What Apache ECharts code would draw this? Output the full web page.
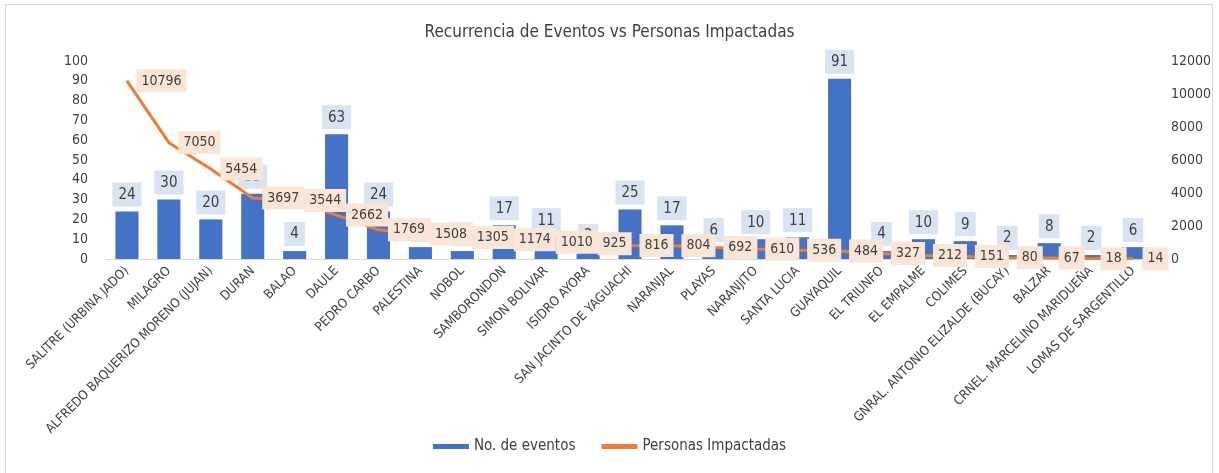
<!DOCTYPE html>
<html>
<head>
<meta charset="utf-8">
<script src="https://cdn.jsdelivr.net/npm/echarts@6/dist/echarts.min.js"></script>
<style>
html,body{margin:0;padding:0;background:#fff;}
#wrap{position:relative;width:1219px;height:473px;overflow:hidden;}
#frame{position:absolute;left:5px;top:4px;width:1208px;height:474px;border:1px solid #d9d9d9;box-sizing:border-box;}
#chart{position:absolute;left:0;top:0;width:1219px;height:473px;}
</style>
</head>
<body>
<div id="wrap"><div id="frame"></div><div id="chart"></div></div>
<script>
const categories = ["SALITRE (URBINA JADO)","MILAGRO","ALFREDO BAQUERIZO MORENO (JUJAN)","DURAN","BALAO","DAULE","PEDRO CARBO","PALESTINA","NOBOL","SAMBORONDON","SIMON BOLIVAR","ISIDRO AYORA","SAN JACINTO DE YAGUACHI","NARANJAL","PLAYAS","NARANJITO","SANTA LUCIA","GUAYAQUIL","EL TRIUNFO","EL EMPALME","COLIMES","GNRAL. ANTONIO ELIZALDE (BUCAY)","BALZAR","CRNEL. MARCELINO MARIDUEÑA","LOMAS DE SARGENTILLO"];
const eventos = [24,30,20,33,4,63,24,6,4,17,11,3,25,17,6,10,11,91,4,10,9,2,8,2,6];
const personas = [10796,7050,5454,3697,3544,2662,1769,1508,1305,1174,1010,925,816,804,692,610,536,484,327,212,151,80,67,18,14];
const leftTicks = {min:0,max:100,interval:10};
const rightTicks = {min:0,max:12000,interval:2000};

const FONT = "'Liberation Sans Narrow','DejaVu Sans Condensed','Roboto',sans-serif";
const chart = echarts.init(document.getElementById('chart'));
chart.setOption({
  animation:false,
  textStyle:{fontFamily:FONT},
  title:{text:'Recurrencia de Eventos vs Personas Impactadas',left:'center',top:19,
    textStyle:{fontFamily:FONT,fontSize:17,fontWeight:'normal',color:'#404040'}},
  legend:{bottom:14,left:'center',itemGap:26,itemWidth:36,itemHeight:5,
    textStyle:{fontFamily:FONT,fontSize:15,color:'#404040'},
    data:[{name:'No. de eventos',icon:'rect'},{name:'Personas Impactadas',icon:'roundRect'}]},
  grid:{left:106,right:65,top:61,height:198,containLabel:false},
  xAxis:{type:'category',data:categories,
    axisLine:{lineStyle:{color:'#d9d9d9',width:1}},axisTick:{show:false},
    axisLabel:{interval:0,rotate:45,fontFamily:FONT,fontSize:13,color:'#404040',margin:10}},
  yAxis:[
    {type:'value',min:leftTicks.min,max:leftTicks.max,interval:leftTicks.interval,
      splitLine:{show:false},axisLine:{show:false},axisTick:{show:false},
      axisLabel:{fontFamily:FONT,fontSize:14,color:'#404040',margin:18}},
    {type:'value',min:rightTicks.min,max:rightTicks.max,interval:rightTicks.interval,
      splitLine:{show:false},axisLine:{show:false},axisTick:{show:false},
      axisLabel:{fontFamily:FONT,fontSize:14,color:'#404040',margin:17,
        formatter:function(v){return String(v);}}}
  ],
  series:[
    {name:'No. de eventos',type:'bar',data:eventos,yAxisIndex:0,barWidth:'55%',
      itemStyle:{color:'#4472c4'},
      label:{show:true,position:'top',distance:5,fontFamily:FONT,fontSize:15,color:'#404040',
        backgroundColor:'#dae3f3',padding:[5,6,4,6]}},
    {name:'Personas Impactadas',type:'line',data:personas,yAxisIndex:1,
      symbol:'circle',symbolSize:1,showSymbol:true,
      itemStyle:{color:'#ed7d31'},lineStyle:{color:'#ed7d31',width:3},
      label:{show:true,position:'right',distance:9,fontFamily:FONT,fontSize:14,color:'#404040',
        backgroundColor:'#fbe5d6',padding:[5,5,4,5]}}
  ]
});
</script>
</body>
</html>
